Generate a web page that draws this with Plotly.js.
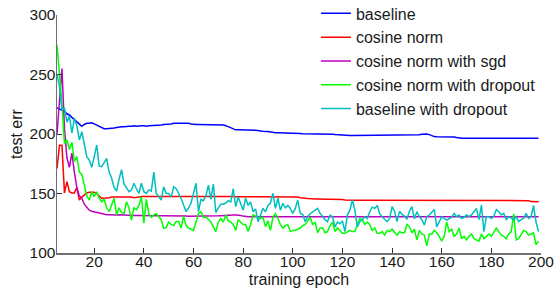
<!DOCTYPE html>
<html>
<head>
<meta charset="utf-8">
<script src="https://cdn.plot.ly/plotly-3.0.1.min.js"></script>
<style>html,body{margin:0;padding:0;background:#fff;}#chart{width:556px;height:288px;}</style>
</head>
<body>
<div id="chart"></div>
<script>
// epochs shown on the x axis (5 .. 199)
const firstEpoch = 5;
const lastEpoch = 199;

const seriesNames = ["baseline", "cosine norm", "cosine norm with sgd", "cosine norm with dropout", "baseline with dropout"];
const seriesColors = ["#0000ff", "#ff0000", "#bf00bf", "#00ff00", "#00bfbf"];

const xTicks = [20, 40, 60, 80, 100, 120, 140, 160, 180, 200];
const yTicks = [100, 150, 200, 250, 300];

const baseline = [
  222, 221, 220, 219, 217, 216, 214, 212, 210, 208,
  206.5, 208, 209, 209, 209.5, 208.5, 207.5, 206, 205, 204.5,
  204.5, 204.5, 204.5, 205, 205.5, 206, 206, 206, 206.5, 206.5,
  206.5, 207, 206.5, 207, 207, 207, 206.5, 207, 207, 207,
  207, 207.5, 207.5, 208, 208, 208.5, 208.5, 209, 209, 209,
  209, 209.5, 209.5, 209, 208.5, 208, 208, 208, 208, 208,
  208, 208, 208, 208, 208, 208, 207.5, 207.5, 207, 206,
  205, 204, 203.5, 203.5, 203.5, 203.5, 203.5, 203.5, 203.5, 203.5,
  203.5, 203, 202.5, 202, 202, 202, 201.5, 201.5, 201, 201,
  201, 200.6, 200.6, 200.5, 200.5, 200.5, 200.4, 200.4, 200.4, 200.2,
  200.2, 200.2, 200, 200, 200, 200, 200, 199.8, 199.8, 199.8,
  199.7, 199.7, 199.5, 199.3, 199, 198.8, 198.8, 198.8, 198.8, 198.8,
  198.8, 198.8, 198.8, 199, 199, 199, 199, 199, 199, 199,
  199, 199, 199, 199, 199, 199, 199, 199, 199, 199,
  199, 199, 199, 199, 199, 199, 199.3, 199.7, 200, 200,
  199.5, 198.5, 197.8, 197.7, 197.7, 197.7, 197.7, 197.7, 197.7, 197.7,
  197.5, 197, 196.5, 196.4, 196.4, 196.4, 196.4, 196.4, 196.4, 196.4,
  196.4, 196.4, 196.4, 196.4, 196.4, 196.4, 196.4, 196.4, 196.4, 196.4,
  196.4, 196.4, 196.4, 196.4, 196.4, 196.4, 196.4, 196.4, 196.4, 196.4,
  196.4, 196.4, 196.4, 196.4, 196.4
];

const cosineNorm = [
  171, 190.5, 190.5, 150.5, 160, 151.5, 150.5, 150.5, 155, 144.5,
  147, 149, 150.5, 151, 151, 151, 150, 148, 146, 146,
  146, 146.5, 147, 147, 147.3, 147.3, 147.3, 147.3, 147.5, 147.5,
  147, 146.5, 146.5, 147, 147.5, 147.5, 147.5, 147.7, 147.7, 147.7,
  147.7, 147.9, 147.9, 147.9, 147.9, 148, 148, 148, 148, 148,
  148, 148, 148, 148, 148, 148, 148, 148, 148, 148,
  148, 148, 148, 148, 148, 148, 148, 147.8, 147.8, 147.8,
  147.6, 147.5, 147.3, 147.3, 147.3, 147.3, 147.3, 147, 147, 147.3,
  147.3, 147.3, 147.3, 147.3, 147.3, 147.3, 147.3, 147.3, 147.3, 147.3,
  147.3, 147.3, 147.3, 147.3, 147.3, 147.3, 147, 147, 146.5, 146,
  146, 145.8, 145.5, 145.4, 145.4, 145.4, 145.4, 145.4, 145.4, 145.4,
  145.4, 145.4, 145.4, 145.4, 145.4, 145, 144.5, 144.3, 144.3, 144.3,
  144.3, 144.3, 144.3, 144.3, 144.3, 144.3, 144.3, 144.3, 144.3, 144.3,
  144.3, 144.3, 144.3, 144.3, 144.3, 144.3, 144.3, 144.3, 144.3, 144.3,
  144.3, 144.3, 144.3, 144.3, 144.3, 144.3, 144.3, 144.3, 144.3, 144.3,
  144.3, 144.3, 144.3, 144.3, 144.3, 144.3, 144.3, 144.3, 144.3, 144.3,
  144.3, 144.3, 144.3, 144.3, 144.3, 144.3, 144.3, 144.3, 144.3, 144.3,
  144.3, 144.3, 144.3, 144.3, 144.3, 144.3, 144.3, 144.3, 144.3, 144.3,
  144.3, 144.3, 144.3, 144.3, 144.3, 144.3, 144.3, 144.3, 144.3, 144.3,
  144, 143.2, 143, 143, 143
];

const cosineNormSgd = [
  200, 230, 255, 205, 180, 172, 184, 168, 155, 148,
  146, 141, 138, 136, 135, 134.5, 134, 133.5, 133, 132.5,
  132.2, 132.2, 132, 132, 132, 132.2, 132, 132, 131.8, 131.8,
  131.5, 131.5, 131.5, 131.5, 131.5, 131.5, 131.3, 131.2, 131.2, 131.1,
  131.1, 131.1, 131.1, 131.1, 131.1, 131.1, 131.1, 131.1, 131.1, 131.1,
  131, 131, 131, 130.8, 130.8, 130.6, 130.6, 130.6, 130.6, 130.6,
  130.6, 130.8, 131, 131, 131, 131.2, 131.4, 131.6, 131.9, 131.9,
  131.9, 131.9, 131.9, 131.9, 131.5, 131, 130.6, 130.5, 130.5, 130.5,
  130.5, 130.5, 130.5, 130.5, 130.5, 130.5, 130.5, 130.5, 130.5, 130.5,
  130.5, 130.5, 130.5, 130.5, 130.5, 130.5, 130.5, 130.5, 130.5, 130.5,
  130.5, 130.5, 130.5, 130.5, 130.5, 130.5, 130.5, 130.5, 130.5, 130.5,
  130.5, 130.5, 130.5, 130.5, 130.5, 130.5, 130.5, 130.5, 130.5, 130.5,
  130.5, 130.5, 130.5, 130.5, 130.5, 130.5, 130.5, 130.5, 130.5, 130.5,
  130.5, 130.5, 130.5, 130.5, 130.5, 130.5, 130.5, 130.5, 130.5, 130.5,
  130.5, 130.5, 130.5, 130.5, 130.5, 130.5, 130.5, 130.5, 130.5, 130.5,
  130.5, 130.5, 130.5, 130.5, 130.5, 130.5, 130.5, 130.5, 130.5, 130.5,
  130.5, 130.5, 130.5, 130.5, 130.5, 130.5, 130.5, 130.5, 130.5, 130.5,
  130.5, 130.5, 130.5, 130.5, 130.5, 130.5, 130.5, 130.5, 130.5, 130.5,
  130.5, 130.5, 130.5, 130.5, 130.5, 130.5, 130.5, 130.5, 130.5, 130.5,
  130.5, 130.5, 130.5, 130.5, 130.5
];

const cosineNormDropout = [
  275, 250, 225, 192, 195, 187, 193, 177, 181, 168,
  166, 157, 148, 144.5, 151.5, 147.3, 151.5, 146, 143, 145,
  138, 134.7, 140, 146, 132, 138, 134, 133, 143, 138,
  127.7, 138, 136.5, 140, 147.3, 125, 145, 133, 130, 132,
  133, 130, 128, 120.7, 121.5, 126, 124, 123, 126.5, 126.5,
  121, 131, 123, 121, 120, 119, 126, 133, 134.7, 130,
  130, 128, 126, 122, 118, 126, 129, 126, 132, 127,
  126, 124, 119, 128, 126, 124, 124, 118, 124, 132,
  131, 130, 129, 130, 122, 127, 119, 130, 133, 129,
  124, 121, 123, 124, 118, 119, 119, 120, 121, 123,
  124, 127, 130, 124, 126, 117, 121, 121, 117, 118,
  123, 126, 118, 121, 119, 116.5, 116.5, 118, 119, 118,
  118, 124, 129, 128, 124, 126, 124, 119, 121, 116.5,
  116.5, 118, 115, 119, 118, 120, 117, 115, 118, 117,
  117, 124, 122, 117, 120, 111, 119, 116, 115, 106,
  116, 116, 119, 117, 114, 110, 114, 126, 118, 120,
  114, 116, 121, 112, 114, 111, 114, 116, 112, 111,
  110, 116, 112, 114, 116, 114, 117, 121, 118, 115,
  114, 112, 116, 118, 133, 111, 112, 116, 119, 118,
  115, 116, 117, 107, 110
];

const baselineDropout = [
  250, 240, 220, 222, 210, 215, 201, 213, 207, 195,
  202, 190, 181, 178, 172, 181, 190.7, 173, 172.5, 176,
  179.6, 168, 163, 155, 152, 162, 170, 158, 155, 151.5,
  153, 158.6, 154, 150, 158.6, 151.5, 150, 153, 152, 168,
  150, 147, 144.5, 155.6, 150, 150, 147, 155.7, 154, 150,
  146, 140.3, 134.7, 138, 142, 150, 158.6, 134.7, 145, 144,
  148, 157, 145, 158, 134, 138, 141, 141, 142, 144,
  143, 154, 139, 147, 142, 136, 146, 140, 143, 134.7,
  137, 126.3, 132, 137.5, 134.7, 140, 142, 150.2, 137.5, 146,
  136, 141.8, 138, 140, 137.5, 133.3, 137.5, 144.5, 133.3, 132.5,
  126.3, 130.5, 133, 134.7, 136, 137.5, 133.3, 130.5, 128, 126.3,
  131.9, 130.5, 122, 126, 124.5, 127, 118, 131.9, 136, 144.5,
  136, 122, 126.3, 128, 130.5, 129, 134.7, 138.5, 137.5, 139.9,
  133, 130.5, 128, 126.3, 129, 139, 135, 126.3, 135, 132.5,
  131, 128.4, 135, 139, 128.8, 134.7, 130.5, 128, 123.5, 130.5,
  131.9, 134.7, 136.5, 122, 126.3, 130.5, 129, 127.7, 129, 130,
  133.3, 130.5, 131.9, 129, 130, 131.9, 130.5, 132, 134.7, 137.5,
  128, 140.3, 118, 130.5, 130.5, 129, 131, 136.5, 134.7, 132,
  133.3, 127.7, 130.5, 129, 128, 130.5, 126.3, 128, 129, 133.3,
  129, 130.5, 139.9, 126, 118
];

const epochs = [];
for (let e = firstEpoch; e <= lastEpoch; e++) epochs.push(e);

const allSeries = [baseline, cosineNorm, cosineNormSgd, cosineNormDropout, baselineDropout];

const traces = allSeries.map((vals, i) => ({
  x: epochs,
  y: vals,
  type: 'scatter',
  mode: 'lines',
  name: seriesNames[i],
  line: {color: seriesColors[i], width: 1.5}
}));

const axisCommon = {
  showgrid: false,
  zeroline: false,
  showline: true,
  linecolor: '#707070',
  linewidth: 1.5,
  ticks: 'inside',
  ticklen: 5,
  tickwidth: 1,
  tickcolor: '#333',
  tickfont: {size: 15.5, color: '#1a1a1a'},
  mirror: false
};

const layout = {
  width: 556,
  height: 288,
  margin: {l: 57, r: 15, t: 15, b: 35, pad: 0, autoexpand: false},
  paper_bgcolor: '#ffffff',
  plot_bgcolor: '#ffffff',
  font: {family: '"Liberation Sans", Arial, sans-serif', size: 15, color: '#1a1a1a'},
  showlegend: true,
  legend: {
    x: 0.535, xanchor: 'left',
    y: 0.807, yanchor: 'middle',
    bgcolor: 'rgba(0,0,0,0)',
    borderwidth: 0,
    font: {size: 16, color: '#1a1a1a'},
    itemwidth: 30
  },
  xaxis: Object.assign({}, axisCommon, {
    range: [firstEpoch, 200],
    tickvals: xTicks,
    ticktext: xTicks.map(String),
    ticklabelstandoff: -6,
    title: {text: 'training epoch', font: {size: 16}, standoff: 13}
  }),
  yaxis: Object.assign({}, axisCommon, {
    range: [100, 300],
    tickvals: yTicks,
    ticktext: yTicks.map(String),
    ticklabelstandoff: -3,
    title: {text: 'test err', font: {size: 16}, standoff: 3}
  })
};

Plotly.newPlot('chart', traces, layout, {displayModeBar: false, staticPlot: true});
</script>
</body>
</html>
